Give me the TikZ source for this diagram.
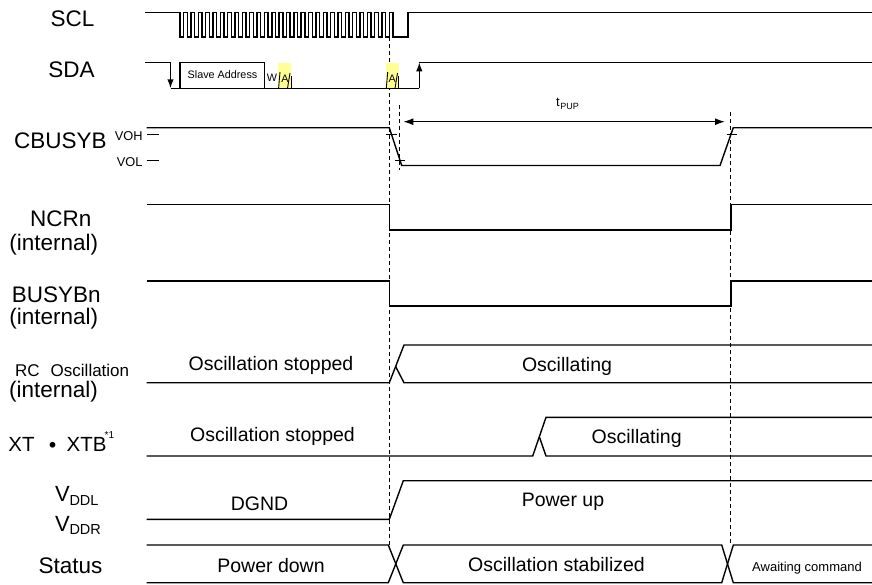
\documentclass[tikz,border=0pt]{standalone}
\usepackage{fontspec}
\setmainfont{Liberation Sans}
\newfontfamily\cjkfont{Noto Sans CJK JP}
\usetikzlibrary{arrows.meta}
\definecolor{ackyellow}{RGB}{255,255,150}
\begin{document}
\begin{tikzpicture}[x=1pt,y=-1pt,
  sig/.style={line width=1.4pt, line join=miter},
  thin/.style={line width=0.9pt},
  dsh/.style={line width=0.8pt, dash pattern=on 4pt off 3pt},
  big/.style={font=\fontsize{22.5}{27}\selectfont, inner sep=0pt, anchor=base},
  mid/.style={font=\fontsize{19.5}{23}\selectfont, inner sep=0pt, anchor=base},
  tiny/.style={font=\fontsize{10.8}{13}\selectfont, inner sep=0pt, anchor=base},
  vlab/.style={font=\fontsize{12.8}{15}\selectfont, inner sep=0pt, anchor=base east},
  arr/.style={-{Latex[length=9pt,width=6.5pt]}, line width=1.4pt}
]
\useasboundingbox (0,0) rectangle (872,584);
\fill[white] (0,0) rectangle (872,584);

% ---------- labels ----------
\node[big] (lscl) at (72.5,26.7) {SCL};
\node[big] (lsda) at (71.5,77.3) {SDA};
\node[big] (lcb) at (60.3,148.3) {CBUSYB};
\node[vlab] (lvoh) at (142.7,140.7) {VOH};
\node[vlab] (lvol) at (142.7,166) {VOL};
\node[big] (lncr) at (60.8,226.7) {NCRn};
\node[big] (lncri) at (53.8,250.5) {(internal)};
\node[big] (lbsy) at (56.2,302.7) {BUSYBn};
\node[big] (lbsyi) at (53.8,324.5) {(internal)};
\node[font=\fontsize{17}{20}\selectfont, inner sep=0pt, anchor=base west] (lrc) at (15,376.7) {RC\hspace{11pt}Oscillation};
\node[big] (lrci) at (53.5,397.3) {(internal)};
\node[font=\fontsize{20.5}{24}\selectfont, inner sep=0pt, anchor=base west] (lxt1) at (8.3,451.7) {XT};
\node[font=\fontsize{27}{30}\selectfont, inner sep=0pt] (ldot) at (53.3,449) {\cjkfont ・};
\node[font=\fontsize{20.5}{24}\selectfont, inner sep=0pt, anchor=base west] (lxt2) at (66.5,451.7) {XTB};
\node[font=\fontsize{10}{12}\selectfont, inner sep=0pt, anchor=base west] (lxt3) at (104.5,438) {*1};
\node[font=\fontsize{22}{26}\selectfont, inner sep=0pt, anchor=base west] (lv1) at (55,501.7) {V};
\node[font=\fontsize{14.5}{17}\selectfont, inner sep=0pt, anchor=base west] (lv1s) at (69.3,505) {DDL};
\node[font=\fontsize{22}{26}\selectfont, inner sep=0pt, anchor=base west] (lv2) at (55,531) {V};
\node[font=\fontsize{14.5}{17}\selectfont, inner sep=0pt, anchor=base west] (lv2s) at (69.3,534.3) {DDR};
\node[big] (lst) at (70.5,573.3) {Status};

% ---------- dashed guides ----------
\draw[dsh] (389.3,37) -- (389.3,545);
\draw[dsh] (399,105) -- (399,170);
\draw[dsh] (730.7,112) -- (730.7,545);

% ---------- SCL ----------
\draw[sig] (145,12.5) -- (180,12.5) -- (180,37)
  \foreach \k in {0,...,28}{
    -- ({180+\k*7.345+3.67},37) -- ({180+\k*7.345+3.67},12.5)
    -- ({180+(\k+1)*7.345},12.5) -- ({180+(\k+1)*7.345},37) }
  -- (408,37) -- (408,12.5) -- (872,12.5);

% ---------- SDA ----------
\fill[ackyellow] (278.3,63.3) rectangle (291,88.3);
\fill[ackyellow] (386,63.3) rectangle (399,88.3);
\draw[sig] (145,62.3) -- (170.5,62.3);
\draw[arr] (170.5,62.3) -- (170.5,88.3);
\draw[sig] (170.5,88.3) -- (419.3,88.3);
\draw[arr] (419.3,88.3) -- (419.3,62.3);
\draw[sig] (419.3,62.3) -- (872,62.3);
\draw[line width=1.2pt] (180,88.3) -- (180,62.3) -- (264.3,62.3) -- (264.3,88.3);
\node[tiny] (sa) at (222.5,78.3) {Slave Address};
\node[tiny] (w) at (272,81.7) {W};
\node[tiny] (a1) at (285,82) {A};
\node[tiny] (a2) at (392.3,82) {A};
\draw[thin] (278.6,88.3) -- (280,72);
\draw[thin] (287.5,88.3) -- (290,73);
\draw[thin] (291,88.3) -- (291,76);
\draw[thin] (386.3,88.3) -- (387.7,72);
\draw[thin] (395,88.3) -- (397.5,73);
\draw[thin] (398.8,88.3) -- (398.8,76);

% ---------- CBUSYB ----------
\draw[sig] (146.7,127.7) -- (389.3,127.7) -- (401.7,165.5) -- (720,165.5) -- (733.3,127.7) -- (872,127.7);
\draw[thin] (146.7,134.3) -- (159.3,134.3);
\draw[thin] (146.7,160) -- (159.3,160);
\draw[thin] (386,134.3) -- (396.7,134.3);
\draw[thin] (395,160) -- (405,160);
\draw[thin] (726.7,134) -- (736.7,134);
\draw[{Latex[length=10pt,width=7pt]}-{Latex[length=10pt,width=7pt]}, line width=1.4pt] (403.3,121.7) -- (725,121.7);
\node[font=\fontsize{13}{15}\selectfont, inner sep=0pt, anchor=base west] (tp) at (556,106) {t};
\node[font=\fontsize{9}{11}\selectfont, inner sep=0pt, anchor=base west] (tps) at (560.2,109) {PUP};

% ---------- NCRn / BUSYBn ----------
\draw[sig] (146.7,204.3) -- (389.3,204.3) -- (389.3,230) -- (731,230) -- (731,204.3) -- (872,204.3);
\draw[sig] (146.7,281) -- (389.3,281) -- (389.3,306) -- (731,306) -- (731,281) -- (872,281);

% ---------- RC oscillation ----------
\draw[sig] (146.7,382.7) -- (389.3,382.7) -- (404,345) -- (872,345);
\draw[sig] (395.6,366.5) -- (404,382.7) -- (872,382.7);
\node[mid] (rcs) at (271,370) {Oscillation stopped};
\node[mid] (rco) at (567,371) {Oscillating};

% ---------- XT ----------
\draw[sig] (146.7,456) -- (532.7,456) -- (546,417.3) -- (872,417.3);
\draw[sig] (539.3,436.7) -- (546,456) -- (872,456);
\node[mid] (xts) at (272.5,441.7) {Oscillation stopped};
\node[mid] (xto) at (636.7,443.3) {Oscillating};

% ---------- VDD ----------
\draw[sig] (146.7,519.3) -- (389.3,519.3) -- (403.3,480.7) -- (872,480.7);
\node[mid] (dg) at (259.5,510) {DGND};
\node[mid] (pu) at (563,506.7) {Power up};

% ---------- Status ----------
\draw[sig] (146.7,545) -- (388.3,545) -- (403.3,582.7) -- (721.7,582.7) -- (733.3,545) -- (872,545);
\draw[sig] (146.7,582.7) -- (388.3,582.7) -- (403.3,545) -- (721.7,545) -- (733.3,582.7) -- (872,582.7);
\node[mid] (pd) at (271,572.7) {Power down};
\node[mid] (os) at (556.5,571.7) {Oscillation stabilized};
\node[font=\fontsize{13}{15}\selectfont, inner sep=0pt, anchor=base] (aw) at (807,571.7) {Awaiting command};
\end{tikzpicture}
\end{document}
